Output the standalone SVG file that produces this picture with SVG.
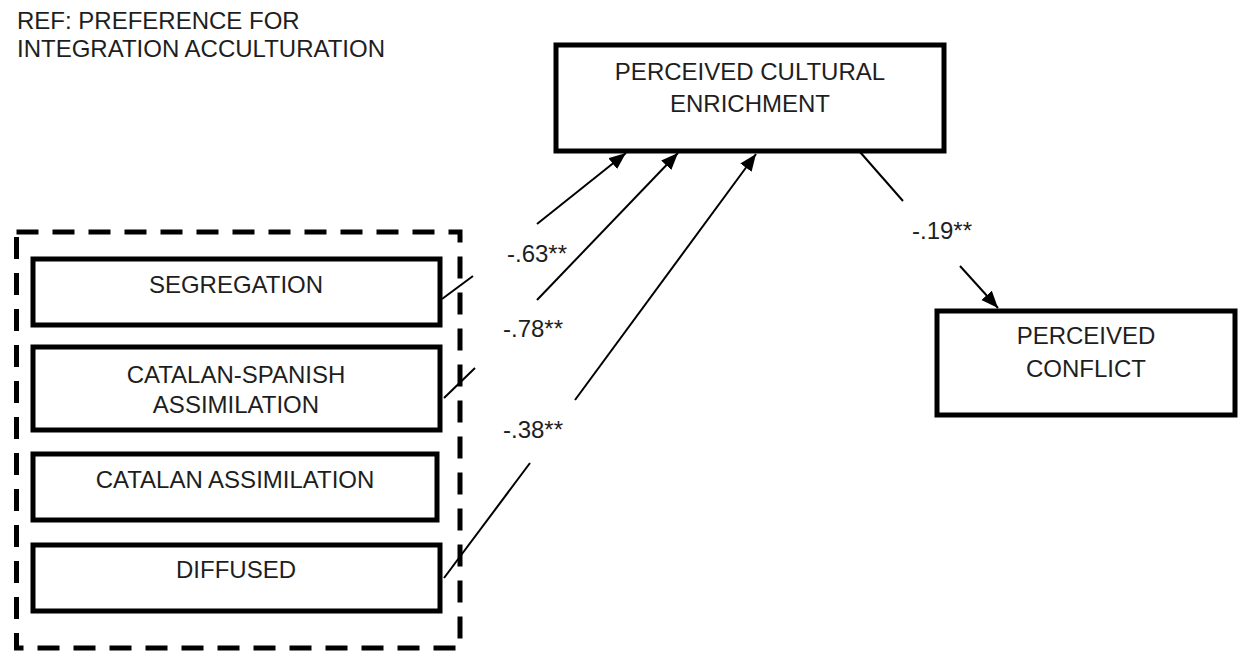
<svg xmlns="http://www.w3.org/2000/svg" width="1240" height="651" viewBox="0 0 1240 651">
<style>
.t{font-family:"Liberation Sans",Arial,sans-serif;font-size:24px;fill:#1e1e1e}
.c{text-anchor:middle}
.box{fill:#fff;stroke:#000;stroke-width:5}
.grp{fill:none;stroke:#000;stroke-width:5;stroke-dasharray:22 14}
.ln{fill:none;stroke:#000;stroke-width:2}
</style>
<defs>
<marker id="ah" markerUnits="userSpaceOnUse" markerWidth="20" markerHeight="16" refX="17" refY="7" orient="auto">
<path d="M0,0 L17,7 L0,14 z" fill="#000"/>
</marker>
</defs>
<rect width="1240" height="651" fill="#fff"/>
<g id="title">
<text class="t" x="17" y="29">REF: PREFERENCE FOR</text>
<text class="t" x="17" y="57">INTEGRATION ACCULTURATION</text>
</g>
<g id="acculturation-group">
<rect class="grp" x="16.5" y="232" width="443.5" height="416"/>
</g>
<g id="segregation">
<rect class="box" x="33" y="259" width="407" height="66"/>
<text class="t c" x="236" y="293">SEGREGATION</text>
</g>
<g id="catalan-spanish">
<rect class="box" x="33" y="347" width="407" height="83"/>
<text class="t c" x="236" y="383">CATALAN-SPANISH</text>
<text class="t c" x="236" y="413">ASSIMILATION</text>
</g>
<g id="catalan">
<rect class="box" x="33" y="454" width="404" height="66"/>
<text class="t c" x="235" y="488">CATALAN ASSIMILATION</text>
</g>
<g id="diffused">
<rect class="box" x="33" y="545" width="407" height="66"/>
<text class="t c" x="236" y="578">DIFFUSED</text>
</g>
<g id="enrichment">
<rect class="box" x="556" y="45" width="388" height="106"/>
<text class="t c" x="750" y="80">PERCEIVED CULTURAL</text>
<text class="t c" x="750" y="112">ENRICHMENT</text>
</g>
<g id="conflict">
<rect class="box" x="937" y="311" width="298" height="104"/>
<text class="t c" x="1086" y="344">PERCEIVED</text>
<text class="t c" x="1086" y="377">CONFLICT</text>
</g>
<g id="connectors">
<line class="ln" x1="442" y1="299" x2="473" y2="276"/>
<line class="ln" x1="537" y1="224" x2="626" y2="153" marker-end="url(#ah)"/>
<line class="ln" x1="444" y1="398" x2="475" y2="368"/>
<line class="ln" x1="537" y1="300" x2="678" y2="153" marker-end="url(#ah)"/>
<line class="ln" x1="444" y1="578" x2="530" y2="463"/>
<line class="ln" x1="575" y1="400" x2="756" y2="154" marker-end="url(#ah)"/>
<line class="ln" x1="860" y1="152" x2="903" y2="201"/>
<line class="ln" x1="960" y1="266" x2="998" y2="308" marker-end="url(#ah)"/>
</g>
<g id="labels">
<text class="t" x="507" y="262">-.63**</text>
<text class="t" x="503" y="337">-.78**</text>
<text class="t" x="503" y="438">-.38**</text>
<text class="t" x="912" y="239">-.19**</text>
</g>
</svg>
